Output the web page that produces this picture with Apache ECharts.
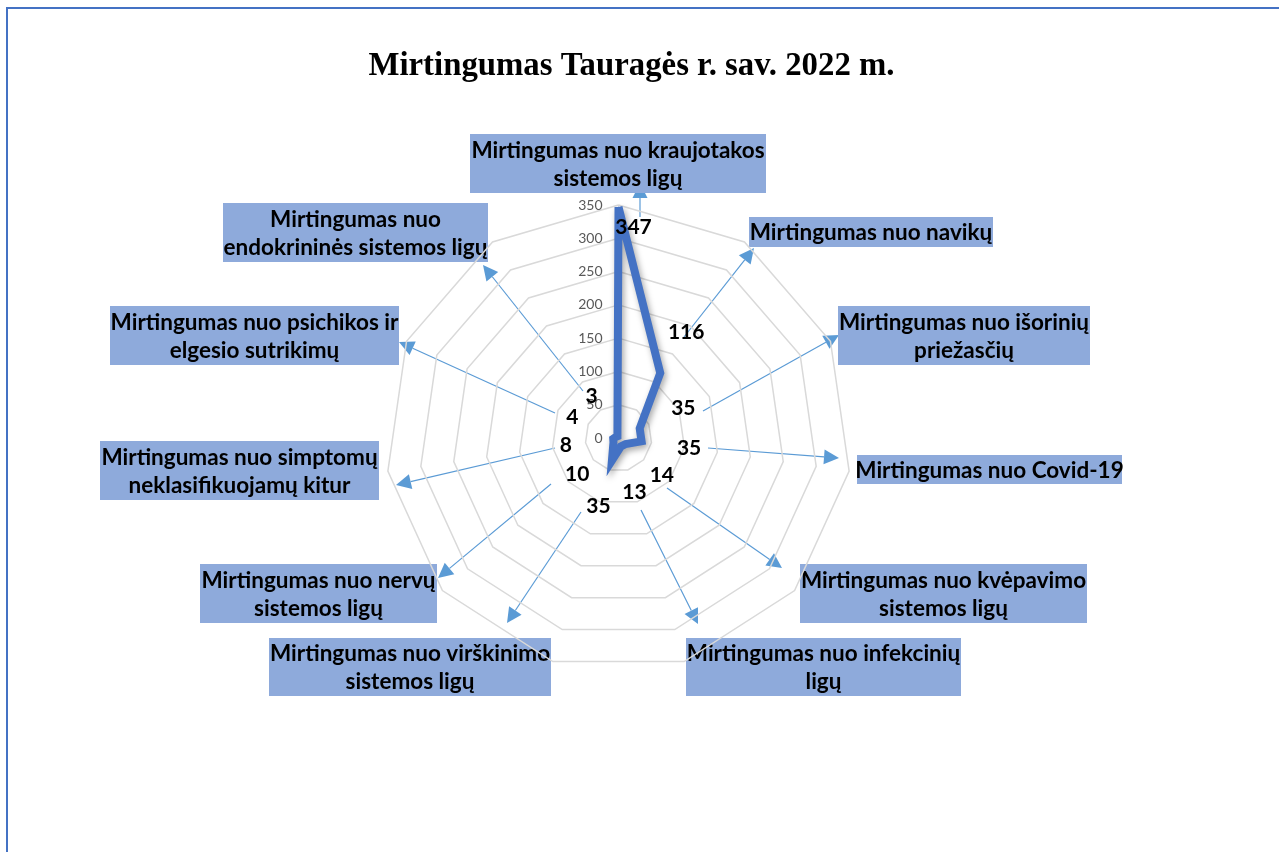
<!DOCTYPE html>
<html>
<head>
<meta charset="utf-8">
<script src="https://cdn.jsdelivr.net/npm/echarts@6/dist/echarts.min.js"></script>
<style>
  html, body { margin: 0; padding: 0; background: #fff; }
  #frame { position: absolute; left: 6px; top: 7px; width: 2000px; height: 2000px;
           border-top: 2px solid #4472c4; border-left: 2px solid #4472c4; }
  #main { position: absolute; left: 0; top: 0; width: 1263px; height: 852px; }
</style>
</head>
<body>
<div id="frame"></div>
<div id="main"></div>
<script>
// kategorijos pagal laikrodžio rodyklę nuo viršaus
const categories = [
  'Mirtingumas nuo kraujotakos\nsistemos ligų',
  'Mirtingumas nuo navikų',
  'Mirtingumas nuo išorinių\npriežasčių',
  'Mirtingumas nuo Covid-19',
  'Mirtingumas nuo kvėpavimo\nsistemos ligų',
  'Mirtingumas nuo infekcinių\nligų',
  'Mirtingumas nuo virškinimo\nsistemos ligų',
  'Mirtingumas nuo nervų\nsistemos ligų',
  'Mirtingumas nuo simptomų\nneklasifikuojamų kitur',
  'Mirtingumas nuo psichikos ir\nelgesio sutrikimų',
  'Mirtingumas nuo\nendokrininės sistemos ligų'
];
const values = [347, 116, 35, 35, 14, 13, 35, 10, 8, 4, 3];
const axisTicks = [0, 50, 100, 150, 200, 250, 300, 350];

// radaro geometrija
const CX = 618.5, CY = 438, RADIUS = 233, LABEL_GAP = 48;

// teksto langeliai (x, y, plotis, aukštis) ir rodyklės (nuo, iki)
const boxLayout = [
  [470, 134, 296, 59], [749, 217, 244, 30], [838, 306, 252, 59], [857, 455, 265, 29],
  [800, 564, 287, 59], [686, 638, 275, 58], [269, 638, 282, 58], [200, 564, 237, 59],
  [100, 441, 279, 59], [110, 306, 289, 59], [223, 203, 265, 59]
];
const arrowLayout = [
  [640, 217, 640, 183], [684, 337, 754, 248], [703, 411, 839, 335], [708, 448, 839, 458],
  [667, 488, 782, 568], [641, 510, 698, 624], [581, 512, 507, 623], [551, 484, 438, 578],
  [555, 448, 396, 485], [555, 413, 399, 342], [583, 391, 483, 265]
];

// echarts radaras eina prieš laikrodžio rodyklę, todėl apverčiam tvarką
const order = [0].concat(categories.map((c, i) => i).slice(1).reverse());

function arrow(a) {
  const [x1, y1, x2, y2] = a;
  const len = Math.hypot(x2 - x1, y2 - y1);
  const ux = (x2 - x1) / len, uy = (y2 - y1) / len;
  const hl = 15, hw = 7.5;
  const bx = x2 - ux * hl, by = y2 - uy * hl;
  return {
    type: 'group',
    children: [
      { type: 'line', shape: { x1: x1, y1: y1, x2: bx, y2: by },
        style: { stroke: '#5b9bd5', lineWidth: 1.2 } },
      { type: 'polygon',
        shape: { points: [[x2, y2], [bx - uy * hw, by + ux * hw], [bx + uy * hw, by - ux * hw]] },
        style: { fill: '#5b9bd5' } }
    ]
  };
}

function box(b, text) {
  return {
    type: 'group',
    children: [
      { type: 'rect', shape: { x: b[0], y: b[1], width: b[2], height: b[3] },
        style: { fill: '#8eaadb' } },
      { type: 'text', x: b[0] + b[2] / 2, y: b[1] + b[3] / 2 + 1,
        style: { text: text, fill: '#000', font: 'bold 22.5px Lato', lineHeight: 28,
                 align: 'center', verticalAlign: 'middle' } }
    ]
  };
}

let myChart = echarts.init(document.getElementById('main'));
let option = {
  animation: false,
  title: {
    text: 'Mirtingumas Tauragės r. sav. 2022 m.',
    left: 'center',
    top: 45,
    textStyle: { fontFamily: 'Liberation Serif', fontWeight: 'bold', fontSize: 32.8, color: '#000' }
  },
  radar: {
    center: [CX, CY],
    radius: RADIUS,
    shape: 'polygon',
    splitNumber: axisTicks.length - 1,
    indicator: order.map((i, k) => ({
      name: categories[i],
      min: axisTicks[0],
      max: axisTicks[axisTicks.length - 1],
      axisLabel: { show: k === 0 }
    })),
    axisName: { show: false },
    axisLine: { show: false },
    axisTick: { show: false },
    splitArea: { show: false },
    splitLine: { lineStyle: { color: '#d9d9d9', width: 1.5 } },
    axisLabel: { show: false, color: '#595959', fontSize: 14, fontFamily: 'Lato', margin: 16 }
  },
  series: [{
    type: 'radar',
    symbol: 'circle',
    symbolSize: 1,
    itemStyle: { color: '#4472c4' },
    lineStyle: {
      color: '#4472c4', width: 8, join: 'miter',
      shadowColor: 'rgba(0,0,0,0.35)', shadowBlur: 6, shadowOffsetX: 2, shadowOffsetY: 3
    },
    label: {
      show: true,
      color: '#000',
      fontFamily: 'Lato',
      fontWeight: 'bold',
      fontSize: 21
    },
    labelLayout: function (p) {
      const px = p.rect.x + p.rect.width / 2, py = p.rect.y + p.rect.height / 2;
      const dx = px - CX, dy = py - CY;
      const d = Math.hypot(dx, dy) || 1;
      if (d + LABEL_GAP > RADIUS) {
        // prie krašto – etiketė nukeliama į vidų
        return { x: px + 15, y: py + 20, align: 'center', verticalAlign: 'middle' };
      }
      return { x: px + dx / d * LABEL_GAP, y: py + dy / d * LABEL_GAP,
               align: 'center', verticalAlign: 'middle' };
    },
    data: [{ value: order.map(i => values[i]), name: 'Mirtingumas' }]
  }],
  graphic: arrowLayout.map(arrow).concat(boxLayout.map((b, i) => box(b, categories[i])))
};
myChart.setOption(option);
window.addEventListener('resize', function () {
  myChart.resize();
});
</script>
</body>
</html>
